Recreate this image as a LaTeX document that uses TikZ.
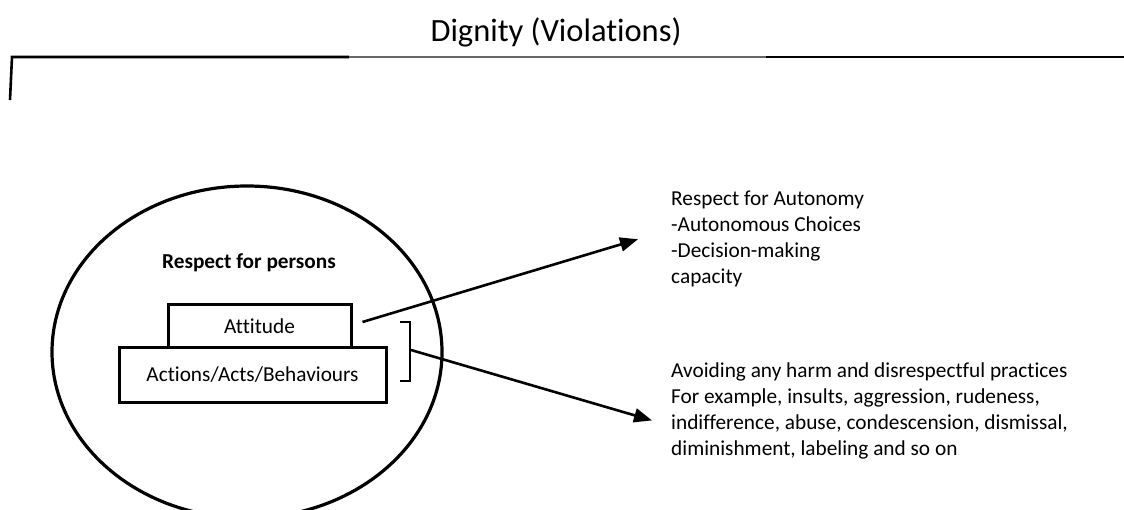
\documentclass[tikz,border=0pt]{standalone}
\usepackage{fontspec}
\setmainfont{Carlito}[Ligatures=NoCommon]
\usetikzlibrary{arrows.meta,positioning}
\begin{document}
\begin{tikzpicture}[x=1pt,y=-1pt,
    box/.style={draw,line width=3pt,inner sep=0pt,font=\fontsize{21.3}{26}\selectfont},
    note/.style={align=left,anchor=north west,inner sep=0pt,font=\fontsize{21.3}{26}\selectfont},
    link/.style={line width=2.6pt,-{Triangle[length=18pt,width=14pt]}}]
  \useasboundingbox (0,0) rectangle (1124,510);
  \node (title) at (556,32) {\fontsize{32.5}{38}\selectfont Dignity (Violations)};
  \draw[line width=2.6pt] (10,100) -- (12,57) -- (349,57);
  \draw[line width=2.6pt,black!60] (349,57) -- (766,57);
  \draw[line width=2.6pt] (766,57) -- (1124,57);
  \draw[line width=3.2pt] (247,352) ellipse (195 and 166);
  \node[font=\fontsize{21.3}{26}\selectfont\bfseries] (persons) at (249,263) {Respect for persons};
  \node[box,minimum width=183pt,minimum height=43pt] (attitude) at (259.5,326.5) {Attitude};
  \node[box,minimum width=267pt,minimum height=54pt] (actions) at (252.5,375) {Actions/Acts/Behaviours};
  \draw[line width=2.6pt] (400,322) -- (410,322) -- (410,381) -- (400,381);
  \coordinate (brace) at (411,350);
  \node[note] (autonomy) at (671,191) {Respect for Autonomy\\-Autonomous Choices\\-Decision-making\\capacity};
  \node[note] (harm) at (671,363) {Avoiding any harm and disrespectful practices\\For example, insults, aggression, rudeness,\\indifference, abuse, condescension, dismissal,\\diminishment, labeling and so on};
  \draw[link] ([xshift=10pt,yshift=4.5pt]attitude.east) -- ([xshift=-33pt]autonomy.west);
  \draw[link] (brace) -- ([xshift=-19pt,yshift=-9pt]harm.west);
\end{tikzpicture}
\end{document}
